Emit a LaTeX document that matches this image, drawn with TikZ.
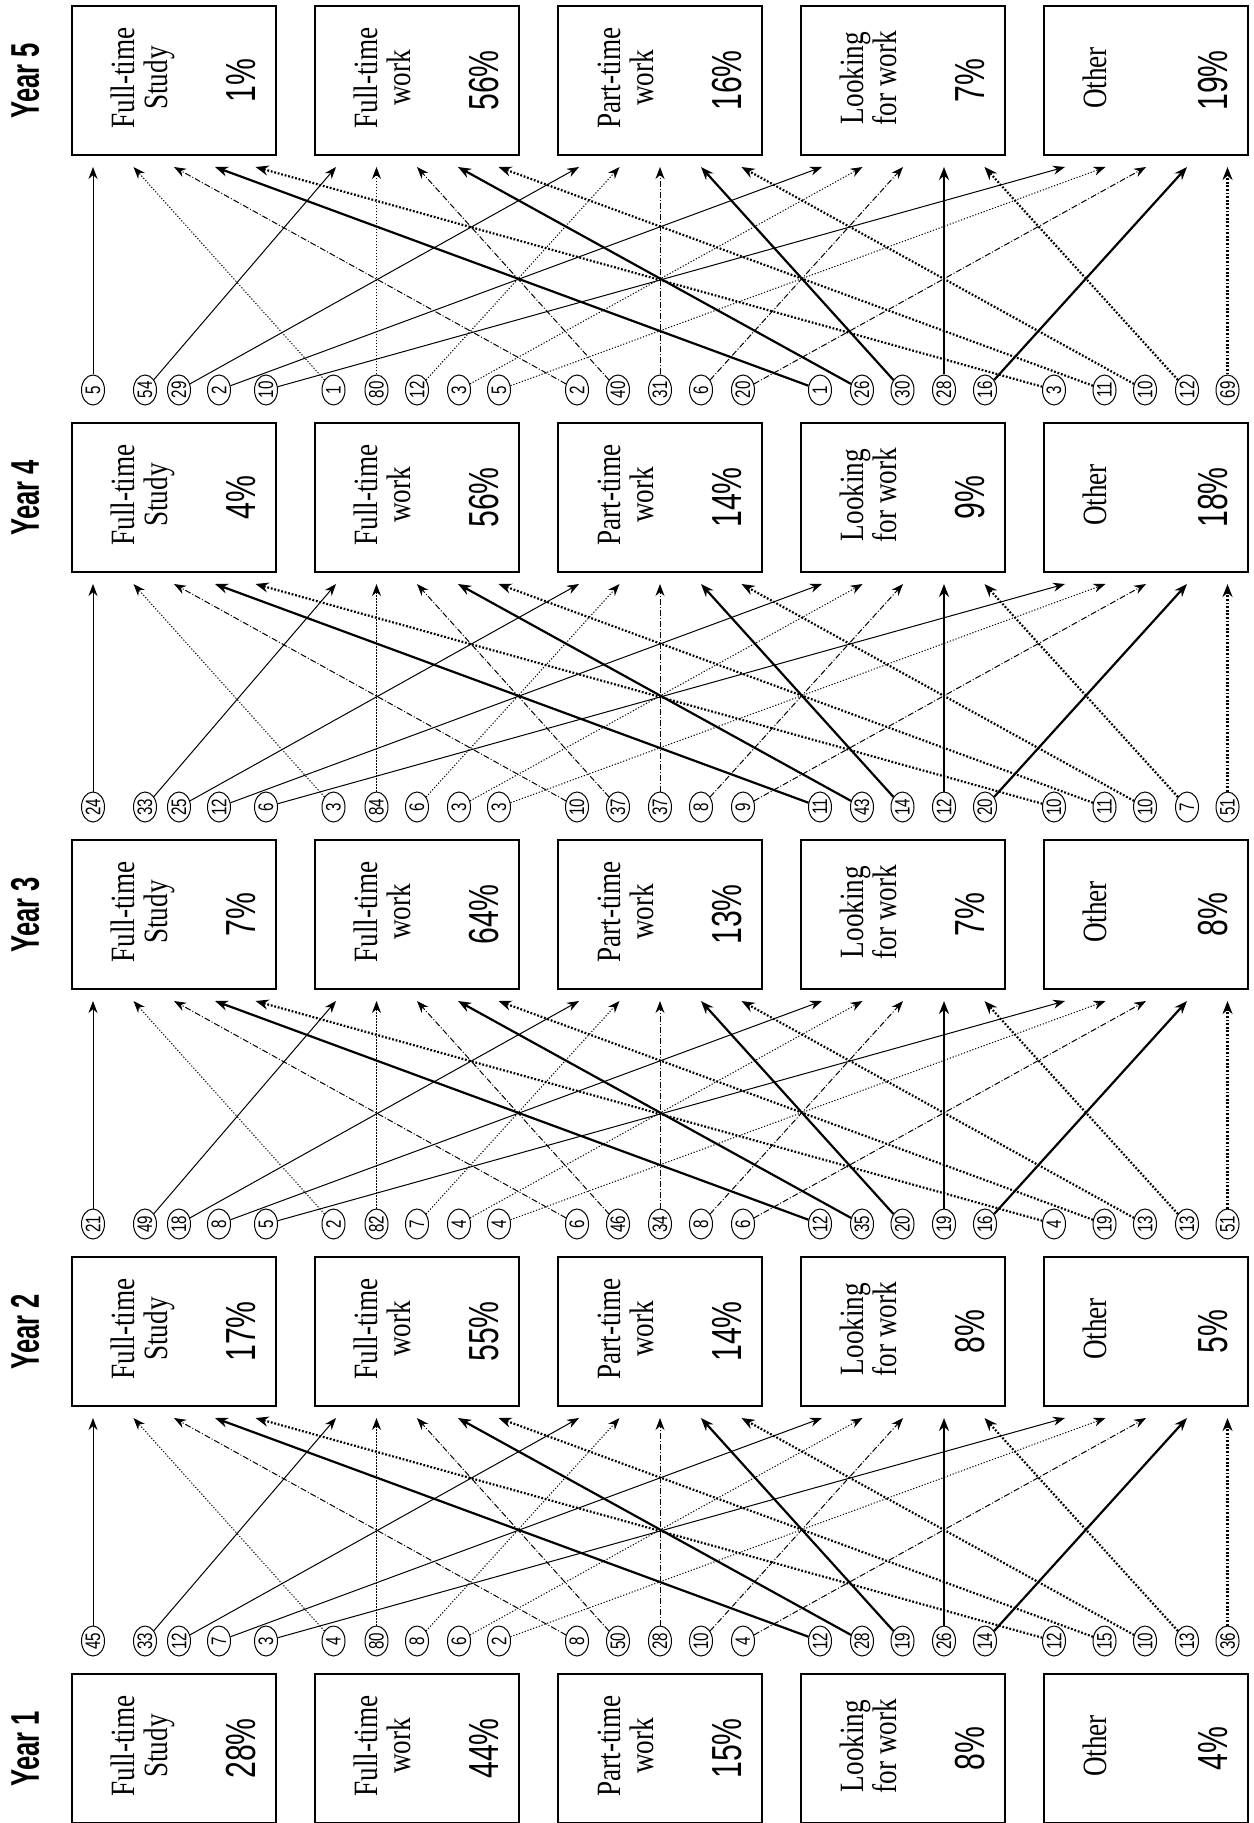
\documentclass[tikz,border=0pt]{standalone}
\usepackage{fontspec}
\newfontfamily\yearfont[FakeStretch=0.64]{Liberation Sans}
\newfontfamily\pctfont[FakeStretch=0.72]{Liberation Sans}
\newfontfamily\boxfont[FakeStretch=0.8]{Liberation Serif}
\usetikzlibrary{shapes.geometric,arrows.meta}

% x positions of the count ovals, 5 per source state
\def\circx{{93,145,179,219,266,333.5,376.5,417,459,499,577,618,660,701,743,820,862,902.5,944,985,1054,1104.5,1145,1187,1227.5}}
% arrow entry offsets inside a target box
\def\tgtx{{21,61.5,102,143,183.5}}

\begin{document}
\begin{tikzpicture}[
    x=0.5pt, y=-0.5pt,
    box/.style={draw, line width=1pt, minimum width=102pt, minimum height=74.5pt, inner sep=0pt},
    yearlbl/.style={rotate=90, anchor=base, inner sep=0pt, font={\yearfont\bfseries\fontsize{20}{24}\selectfont}},
    catlbl/.style={rotate=90, anchor=base, inner sep=0pt, font={\boxfont\fontsize{17}{19}\selectfont}},
    pctlbl/.style={rotate=90, anchor=base, inner sep=0pt, font={\pctfont\fontsize{21}{24}\selectfont}},
    count/.style={ellipse, draw, line width=0.5pt, rotate=90, minimum width=15pt, minimum height=11.5pt, inner sep=0pt, font={\pctfont\fontsize{10.5}{12}\selectfont}},
    flow0/.style={line width=0.5pt, -{Stealth[length=6pt,width=4.5pt]}},
    flow1/.style={line width=0.5pt, dash pattern=on 0.6pt off 0.9pt, -{Stealth[length=6pt,width=4.5pt]}},
    flow2/.style={line width=0.5pt, dash pattern=on 3pt off 1pt on 0.5pt off 1pt, -{Stealth[length=6pt,width=4.5pt]}},
    flow3/.style={line width=1.1pt, -{Stealth[length=6.5pt,width=5pt]}},
    flow4/.style={line width=1.1pt, dash pattern=on 0.9pt off 0.9pt, -{Stealth[length=6.5pt,width=5pt]}},
]
\useasboundingbox (0,0) rectangle (1253,1823);

% state boxes for each year
\foreach \yr/\pa/\pb/\pc/\pd/\pe in {1/28/44/15/8/4, 2/17/55/14/8/5, 3/7/64/13/7/8, 4/4/56/14/9/18, 5/1/56/16/7/19}{
  \pgfmathsetmacro\bY{6+417*(5-\yr)}
  \node[yearlbl] (y\yr) at (39,\bY+74.5) {Year \yr};
  \foreach \i/\la/\lb/\p in {0/Full-time/Study/\pa, 1/Full-time/work/\pb, 2/Part-time/work/\pc, 3/Looking/for work/\pd, 4/Other/{}/\pe}{
    \pgfmathsetmacro\bX{72+243*\i}
    \node[box] (b\yr-\i) at (\bX+102,\bY+74.5) {};
    \node[catlbl] (l\yr-\i-a) at (\bX+62,\bY+72) {\la};
    \ifnum\i<4
      \node[catlbl] (l\yr-\i-b) at (\bX+95,\bY+72) {\lb};
    \fi
    \node[pctlbl] (p\yr-\i) at (\bX+183,\bY+74.5) {\p\%};
  }
}

% transitions: year k -> year k+1, one row of counts per source state
\foreach \k/\src/\vals in {
  1/0/{45,33,12,7,3}, 1/1/{4,80,8,6,2}, 1/2/{8,50,28,10,4}, 1/3/{12,28,19,26,14}, 1/4/{12,15,10,13,36},
  2/0/{21,49,18,8,5}, 2/1/{2,82,7,4,4}, 2/2/{6,46,34,8,6}, 2/3/{12,35,20,19,16}, 2/4/{4,19,13,13,51},
  3/0/{24,33,25,12,6}, 3/1/{3,84,6,3,3}, 3/2/{10,37,37,8,9}, 3/3/{11,43,14,12,20}, 3/4/{10,11,10,7,51},
  4/0/{5,54,29,2,10}, 4/1/{1,80,12,3,5}, 4/2/{2,40,31,6,20}, 4/3/{1,26,30,28,16}, 4/4/{3,11,10,12,69}}{
  \pgfmathsetmacro\cY{6+417*(5-\k)-33}
  \pgfmathsetmacro\tY{6+417*(4-\k)+149+12}
  \foreach \v [count=\j from 0] in \vals {
    \pgfmathsetmacro\cX{\circx[5*\src+\j]}
    \pgfmathsetmacro\tX{72+243*\j+\tgtx[\src]}
    \node[count] (c\k-\src-\j) at (\cX,\cY) {\v};
    \coordinate (t\k-\j-\src) at (\tX,\tY);
    \draw[flow\src] (c\k-\src-\j) -- (t\k-\j-\src);
  }
}
\end{tikzpicture}
\end{document}
